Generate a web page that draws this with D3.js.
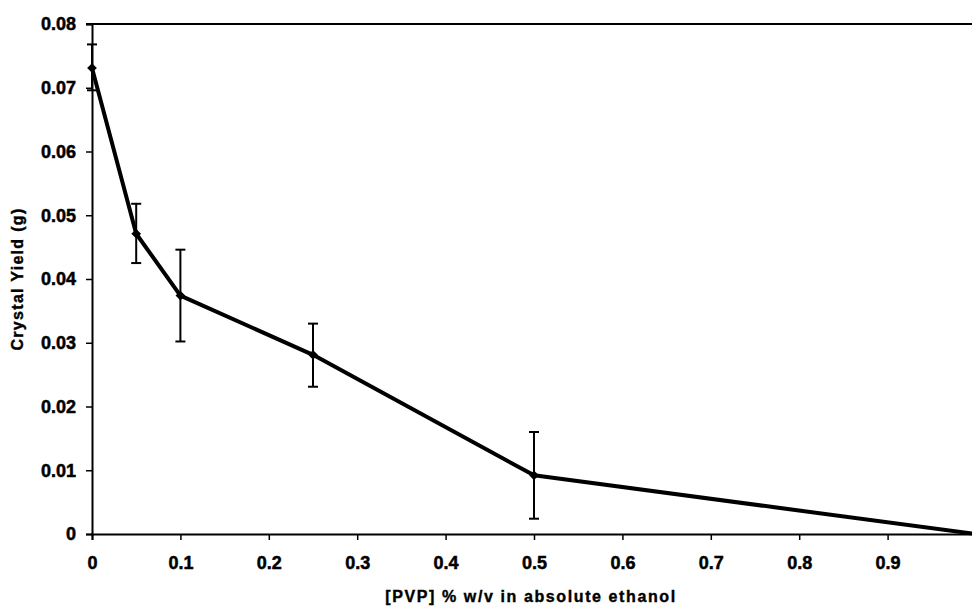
<!DOCTYPE html>
<html>
<head>
<meta charset="utf-8">
<script src="https://cdn.jsdelivr.net/npm/d3@7"></script>
<style>
    body { margin: 0; background: #fff; }
    svg { display: block; font-family: 'Liberation Sans', Arial, sans-serif; font-weight: bold; }
</style>
</head>
<body>
<svg id="chart" width="972" height="606"></svg>
<script>
// PVP concentration (% w/v) and crystal yield (g)
const pvp = [0, 0.05, 0.1, 0.25, 0.5, 1]
const yieldMean = [0.0731, 0.0471, 0.0374, 0.0281, 0.0092, 0.0]
const yieldHigh = [0.0768, 0.0518, 0.0446, 0.0330, 0.0160, null]
const yieldLow = [0.0696, 0.0425, 0.0302, 0.0231, 0.0024, null]
const xTicks = [0, 0.1, 0.2, 0.3, 0.4, 0.5, 0.6, 0.7, 0.8, 0.9, 1]
const yTicks = [0, 0.01, 0.02, 0.03, 0.04, 0.05, 0.06, 0.07, 0.08]

const data = pvp.map((x, i) => ({ x: x, y: yieldMean[i], hi: yieldHigh[i], lo: yieldLow[i] }))

const svg = d3.select('#chart')
const margin = { left: 92, right: -4, top: 24, bottom: 72 }
const width = 972, height = 606

const xScale = d3.scaleLinear()
    .domain([0, 1])
    .range([margin.left, width - margin.right])

const yScale = d3.scaleLinear()
    .domain([0, 0.08])
    .range([height - margin.bottom, margin.top])

const fmt = d => d === 0 ? '0' : d3.format('.2f')(d)

// top border of the plot area
svg.append('line')
    .attr('x1', xScale(0) - 6).attr('x2', xScale(1))
    .attr('y1', yScale(0.08)).attr('y2', yScale(0.08))
    .attr('stroke', '#000').attr('stroke-width', 2)

const styleTicks = (sel) => {
    sel.select('.domain').attr('stroke-width', 2)
    sel.selectAll('.tick line').attr('stroke-width', 1.5)
    sel.selectAll('text')
        .style('font-size', '18px')
        .style('font-weight', 'bold')
        .attr('fill', '#000')
        .attr('stroke', '#000')
        .attr('stroke-width', 0.5)
}

const yAxis = svg.append('g')
    .attr('transform', `translate(${xScale(0)},0)`)
    .call(d3.axisLeft(yScale).tickValues(yTicks).tickFormat(fmt).tickSize(6).tickPadding(10))
styleTicks(yAxis)

const xAxis = svg.append('g')
    .attr('transform', `translate(0,${yScale(0)})`)
    .call(d3.axisBottom(xScale).tickValues(xTicks)
        .tickFormat(d => d === 0 || d === 1 ? d : d3.format('.1f')(d))
        .tickSize(6).tickPadding(16))
styleTicks(xAxis)

// error bars
const errs = svg.append('g').selectAll('g')
    .data(data.filter(d => d.hi !== null))
    .enter().append('g')
errs.append('line')
    .attr('x1', d => xScale(d.x)).attr('x2', d => xScale(d.x))
    .attr('y1', d => yScale(d.hi)).attr('y2', d => yScale(d.lo))
    .attr('stroke', '#000').attr('stroke-width', 2)
errs.selectAll('line.cap')
    .data(d => [[d.x, d.hi], [d.x, d.lo]])
    .enter().append('line')
    .attr('class', 'cap')
    .attr('x1', d => xScale(d[0]) - 5).attr('x2', d => xScale(d[0]) + 5)
    .attr('y1', d => yScale(d[1])).attr('y2', d => yScale(d[1]))
    .attr('stroke', '#000').attr('stroke-width', 2)

// the line
const line = d3.line().x(d => xScale(d.x)).y(d => yScale(d.y))
svg.append('path')
    .datum(data)
    .attr('d', line)
    .attr('fill', 'none')
    .attr('stroke', '#000')
    .attr('stroke-width', 4)
    .attr('stroke-linejoin', 'round')

// diamond markers
svg.append('g').selectAll('path')
    .data(data)
    .enter().append('path')
    .attr('transform', d => `translate(${xScale(d.x)},${yScale(d.y)})`)
    .attr('d', d3.symbol().type(d3.symbolDiamond2).size(60))
    .attr('fill', '#000')

svg.append('text')
    .attr('x', 531).attr('y', 602)
    .attr('text-anchor', 'middle')
    .style('font-size', '16px')
    .style('letter-spacing', '1.6px')
    .attr('stroke', '#000').attr('stroke-width', 0.4)
    .text('[PVP] % w/v in absolute ethanol')

svg.append('text')
    .attr('transform', `translate(23,${(yScale(0) + yScale(0.08)) / 2}) rotate(-90)`)
    .attr('text-anchor', 'middle')
    .style('font-size', '16px')
    .style('letter-spacing', '1.3px')
    .attr('stroke', '#000').attr('stroke-width', 0.4)
    .text('Crystal Yield (g)')
</script>
</body>
</html>
